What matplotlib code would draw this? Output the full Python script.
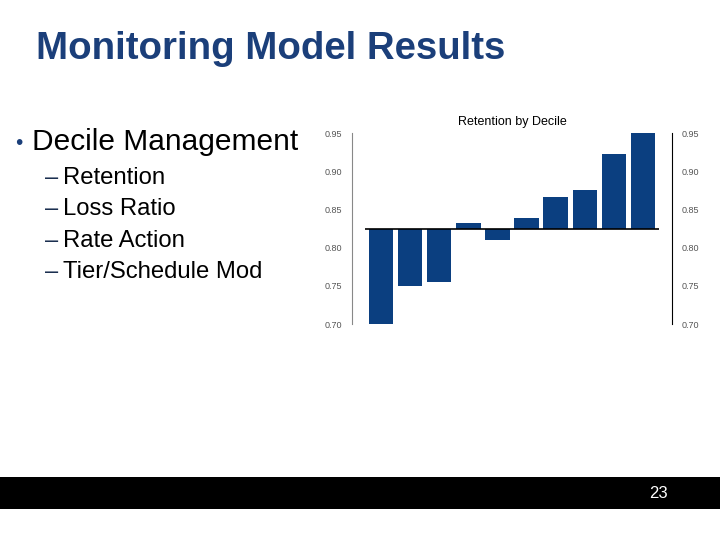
import matplotlib.pyplot as plt

# retention by decile
deciles = list(range(1, 11))
retention = [0.700, 0.750, 0.755, 0.832, 0.810, 0.839, 0.867, 0.876, 0.923, 0.950]
average = 0.825
yticks = [0.70, 0.75, 0.80, 0.85, 0.90, 0.95]

title = "Monitoring Model Results"
bullet = "Decile Management"
subitems = ["Retention", "Loss Ratio", "Rate Action", "Tier/Schedule Mod"]
page = "23"

plt.rcParams['font.family'] = ['Liberation Sans', 'DejaVu Sans']

fig = plt.figure(figsize=(7.2, 5.4), dpi=100)
W, H = 720, 540

# slide text
fig.text(36 / W, 1 - 59 / H, title, fontsize=27.6, fontweight='bold',
         color='#1B3F7A', va='baseline', ha='left')
fig.text(15 / W, 1 - 149 / H, "\u2022", fontsize=15, color='#1B3F7A',
         va='baseline', ha='left')
fig.text(32 / W, 1 - 150 / H, bullet, fontsize=21.5, color='black',
         va='baseline', ha='left')
for i, s in enumerate(subitems):
    yb = 184 + i * 31.4
    fig.text(45 / W, 1 - yb / H, "\u2013", fontsize=17, color='#1B2F50',
             va='baseline', ha='left')
    fig.text(63 / W, 1 - yb / H, s, fontsize=17.2, color='black',
             va='baseline', ha='left')

# footer bar
bar = fig.add_axes([0, 1 - 509 / H, 1, 32 / H])
bar.set_facecolor('black')
bar.set_xticks([])
bar.set_yticks([])
for sp in bar.spines.values():
    sp.set_visible(False)
fig.text(658 / W, 1 - 493 / H, page, fontsize=12, color='white',
         ha='center', va='center')

# chart
ax = fig.add_axes([352 / W, 1 - 324 / H, 320 / W, 190.7 / H])
x = [d - 1 for d in deciles]
heights = [r - average for r in retention]
ax.bar(x, heights, bottom=average, width=0.84, color='#0B3F80')
ax.hlines(average, -0.57, 9.57, color='black', lw=1.2)
ax.set_xlim(-1, 10)
ax.set_ylim(0.70, 0.95)
ax.set_yticks(yticks)
ax.set_yticklabels([f"{v:.2f}" for v in yticks])
ax.tick_params(axis='y', labelsize=6.5, labelcolor='#555555', length=0,
               pad=7, right=True, labelright=True)
ax.set_xticks([])
ax.spines['top'].set_visible(False)
ax.spines['bottom'].set_visible(False)
ax.spines['left'].set_color('#888888')
ax.spines['right'].set_color('black')
ax.set_title("Retention by Decile", fontsize=9, pad=6)

fig.savefig("out.png", dpi=100)
